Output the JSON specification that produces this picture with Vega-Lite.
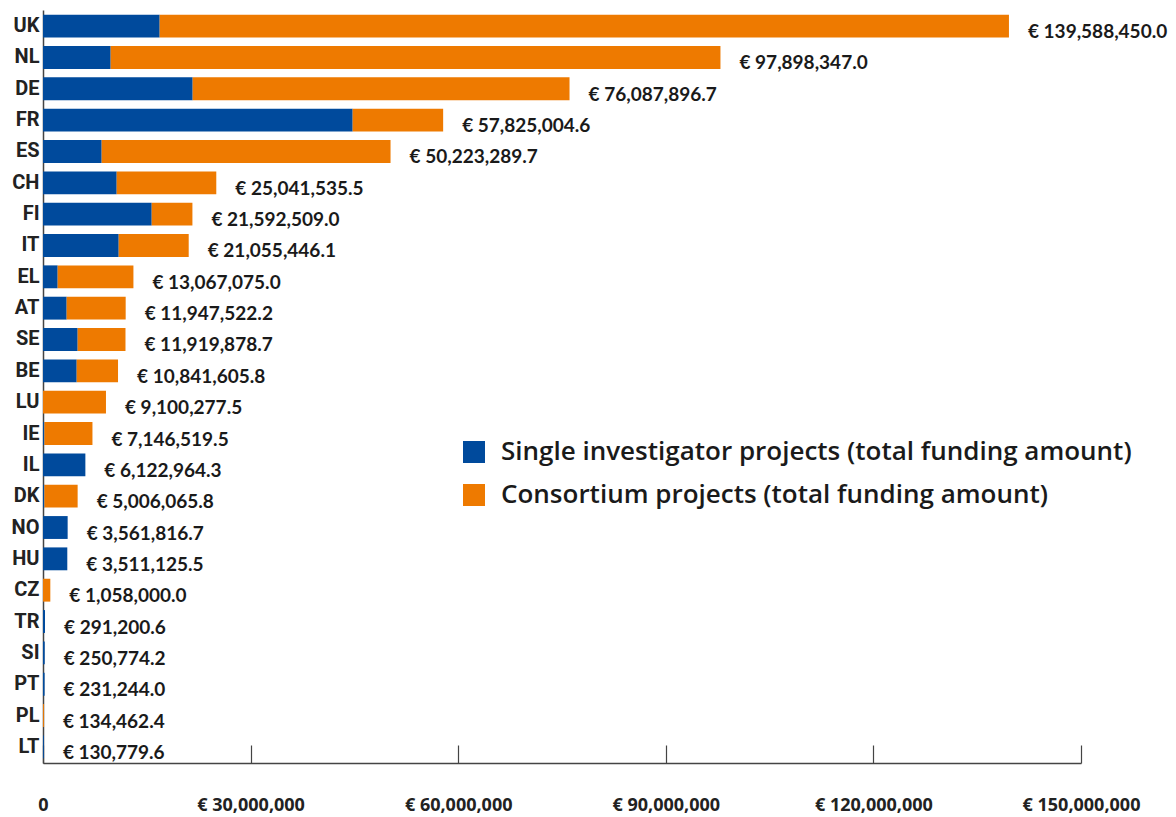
{
  "$schema": "https://vega.github.io/schema/vega-lite/v6.json",
  "width": 1038,
  "height": 753,
  "autosize": {"type": "none"},
  "padding": {"left": 43, "top": 10, "right": 95, "bottom": 54},
  "background": "white",
  "config": {"view": {"stroke": null}},
  "datasets": {
    "bars": [
      {"country": "UK", "type": "Single investigator projects (total funding amount)", "amount": 16860000},
      {"country": "UK", "type": "Consortium projects (total funding amount)", "amount": 122728450},
      {"country": "NL", "type": "Single investigator projects (total funding amount)", "amount": 9780000},
      {"country": "NL", "type": "Consortium projects (total funding amount)", "amount": 88118347},
      {"country": "DE", "type": "Single investigator projects (total funding amount)", "amount": 21630000},
      {"country": "DE", "type": "Consortium projects (total funding amount)", "amount": 54457897},
      {"country": "FR", "type": "Single investigator projects (total funding amount)", "amount": 44750000},
      {"country": "FR", "type": "Consortium projects (total funding amount)", "amount": 13075005},
      {"country": "ES", "type": "Single investigator projects (total funding amount)", "amount": 8480000},
      {"country": "ES", "type": "Consortium projects (total funding amount)", "amount": 41743290},
      {"country": "CH", "type": "Single investigator projects (total funding amount)", "amount": 10650000},
      {"country": "CH", "type": "Consortium projects (total funding amount)", "amount": 14391536},
      {"country": "FI", "type": "Single investigator projects (total funding amount)", "amount": 15710000},
      {"country": "FI", "type": "Consortium projects (total funding amount)", "amount": 5882509},
      {"country": "IT", "type": "Single investigator projects (total funding amount)", "amount": 10940000},
      {"country": "IT", "type": "Consortium projects (total funding amount)", "amount": 10115446},
      {"country": "EL", "type": "Single investigator projects (total funding amount)", "amount": 2120000},
      {"country": "EL", "type": "Consortium projects (total funding amount)", "amount": 10947075},
      {"country": "AT", "type": "Single investigator projects (total funding amount)", "amount": 3420000},
      {"country": "AT", "type": "Consortium projects (total funding amount)", "amount": 8527522},
      {"country": "SE", "type": "Single investigator projects (total funding amount)", "amount": 5010000},
      {"country": "SE", "type": "Consortium projects (total funding amount)", "amount": 6909879},
      {"country": "BE", "type": "Single investigator projects (total funding amount)", "amount": 4870000},
      {"country": "BE", "type": "Consortium projects (total funding amount)", "amount": 5971606},
      {"country": "LU", "type": "Single investigator projects (total funding amount)", "amount": 0},
      {"country": "LU", "type": "Consortium projects (total funding amount)", "amount": 9100278},
      {"country": "IE", "type": "Single investigator projects (total funding amount)", "amount": 200000},
      {"country": "IE", "type": "Consortium projects (total funding amount)", "amount": 6946520},
      {"country": "IL", "type": "Single investigator projects (total funding amount)", "amount": 6122964},
      {"country": "IL", "type": "Consortium projects (total funding amount)", "amount": 0},
      {"country": "DK", "type": "Single investigator projects (total funding amount)", "amount": 200000},
      {"country": "DK", "type": "Consortium projects (total funding amount)", "amount": 4806066},
      {"country": "NO", "type": "Single investigator projects (total funding amount)", "amount": 3561817},
      {"country": "NO", "type": "Consortium projects (total funding amount)", "amount": 0},
      {"country": "HU", "type": "Single investigator projects (total funding amount)", "amount": 3511126},
      {"country": "HU", "type": "Consortium projects (total funding amount)", "amount": 0},
      {"country": "CZ", "type": "Single investigator projects (total funding amount)", "amount": 0},
      {"country": "CZ", "type": "Consortium projects (total funding amount)", "amount": 1058000},
      {"country": "TR", "type": "Single investigator projects (total funding amount)", "amount": 291201},
      {"country": "TR", "type": "Consortium projects (total funding amount)", "amount": 0},
      {"country": "SI", "type": "Single investigator projects (total funding amount)", "amount": 250774},
      {"country": "SI", "type": "Consortium projects (total funding amount)", "amount": 0},
      {"country": "PT", "type": "Single investigator projects (total funding amount)", "amount": 231244},
      {"country": "PT", "type": "Consortium projects (total funding amount)", "amount": 0},
      {"country": "PL", "type": "Single investigator projects (total funding amount)", "amount": 0},
      {"country": "PL", "type": "Consortium projects (total funding amount)", "amount": 134462},
      {"country": "LT", "type": "Single investigator projects (total funding amount)", "amount": 130780},
      {"country": "LT", "type": "Consortium projects (total funding amount)", "amount": 0}
    ],
    "totals": [
      {"country": "UK", "total": 139588450.0},
      {"country": "NL", "total": 97898347.0},
      {"country": "DE", "total": 76087896.7},
      {"country": "FR", "total": 57825004.6},
      {"country": "ES", "total": 50223289.7},
      {"country": "CH", "total": 25041535.5},
      {"country": "FI", "total": 21592509.0},
      {"country": "IT", "total": 21055446.1},
      {"country": "EL", "total": 13067075.0},
      {"country": "AT", "total": 11947522.2},
      {"country": "SE", "total": 11919878.7},
      {"country": "BE", "total": 10841605.8},
      {"country": "LU", "total": 9100277.5},
      {"country": "IE", "total": 7146519.5},
      {"country": "IL", "total": 6122964.3},
      {"country": "DK", "total": 5006065.8},
      {"country": "NO", "total": 3561816.7},
      {"country": "HU", "total": 3511125.5},
      {"country": "CZ", "total": 1058000.0},
      {"country": "TR", "total": 291200.6},
      {"country": "SI", "total": 250774.2},
      {"country": "PT", "total": 231244.0},
      {"country": "PL", "total": 134462.4},
      {"country": "LT", "total": 130779.6}
    ]
  },
  "layer": [
    {
      "data": {"name": "bars"},
      "mark": {"type": "bar"},
      "encoding": {
        "y": {
          "field": "country", "type": "nominal",
          "sort": ["UK","NL","DE","FR","ES","CH","FI","IT","EL","AT","SE","BE","LU","IE","IL","DK","NO","HU","CZ","TR","SI","PT","PL","LT"],
          "scale": {"paddingInner": 0.27, "paddingOuter": 0.15},
          "axis": {
            "title": null, "ticks": false, "domainColor": "#444", "domainWidth": 1.5,
            "labelFont": "Roboto", "labelFontWeight": "bold", "labelFontSize": 20,
            "labelColor": "#222", "labelPadding": 4
          }
        },
        "x": {
          "field": "amount", "type": "quantitative", "stack": "zero",
          "scale": {"domain": [0, 150000000], "nice": false},
          "axis": {
            "title": null, "grid": false, "values": [0, 30000000, 60000000, 90000000, 120000000, 150000000],
            "tickSize": -18, "tickColor": "#444", "tickWidth": 1.2,
            "domainColor": "#444", "domainWidth": 1.5,
            "labelExpr": "datum.value == 0 ? '0' : '€ ' + format(datum.value, ',')",
            "labelFont": "Open Sans", "labelFontWeight": "bold", "labelFontSize": 18,
            "labelColor": "#222", "labelPadding": 51, "labelFlush": false, "labelOverlap": false
          }
        },
        "color": {
          "field": "type", "type": "nominal",
          "scale": {
            "domain": ["Single investigator projects (total funding amount)", "Consortium projects (total funding amount)"],
            "range": ["#004a9c", "#ee7a00"]
          },
          "legend": {
            "title": null, "orient": "none", "legendX": 418, "legendY": 429,
            "symbolType": "square", "symbolSize": 484, "symbolStrokeWidth": 0,
            "labelFont": "Open Sans", "labelFontSize": 26, "labelFontWeight": 600,
            "labelColor": "#1a1a1a", "labelOffset": 14, "rowPadding": 17, "labelLimit": 800
          }
        },
        "order": {"field": "type", "sort": "descending"}
      }
    },
    {
      "data": {"name": "totals"},
      "mark": {"type": "text", "align": "left", "baseline": "middle", "dx": 19, "dy": 6,
               "font": "Lato", "fontSize": 19, "fontWeight": "bold", "color": "#1a1a1a",
               "text": {"expr": "'€ ' + format(datum.total, ',.1f')"}},
      "encoding": {
        "y": {"field": "country", "type": "nominal",
              "sort": ["UK","NL","DE","FR","ES","CH","FI","IT","EL","AT","SE","BE","LU","IE","IL","DK","NO","HU","CZ","TR","SI","PT","PL","LT"]},
        "x": {"field": "total", "type": "quantitative"}
      }
    }
  ]
}
